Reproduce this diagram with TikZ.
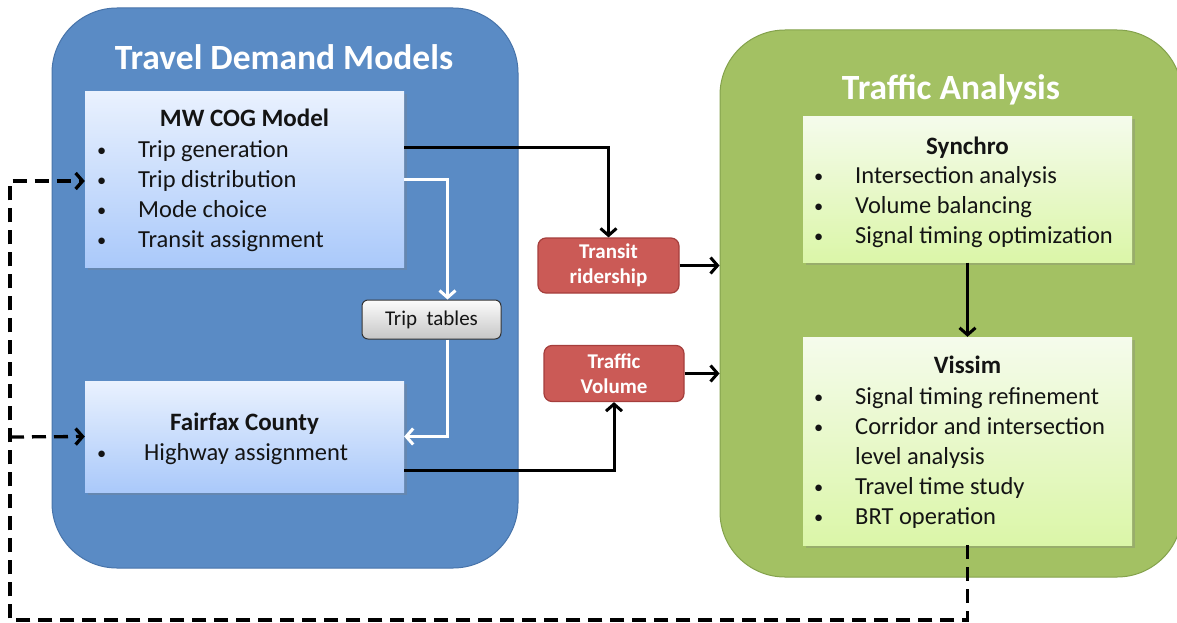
\documentclass[tikz,border=0pt]{standalone}
\usepackage{fontspec}
\setmainfont{Carlito}
\usetikzlibrary{arrows.meta,shadows,calc}
\definecolor{bluebg}{RGB}{90,139,197}
\definecolor{blueedge}{RGB}{72,116,170}
\definecolor{greenbg}{RGB}{163,193,99}
\definecolor{greenedge}{RGB}{132,162,76}
\definecolor{redbg}{RGB}{203,90,86}
\definecolor{rededge}{RGB}{165,62,60}
\definecolor{cogtop}{RGB}{233,241,254}
\definecolor{cogbot}{RGB}{170,201,250}
\definecolor{syntop}{RGB}{245,251,236}
\definecolor{synbot}{RGB}{219,246,168}
\definecolor{graytop}{RGB}{252,252,252}
\definecolor{graybot}{RGB}{198,198,198}
\definecolor{txtcol}{RGB}{20,20,20}
\newcommand\mkitem[5]{\node[itemtxt] (#1) at (#2,#3) {\makebox[#4pt][l]{\raisebox{1pt}{\scalebox{0.75}{\textbullet}}}#5};}
\begin{document}
\begin{tikzpicture}[x=1pt,y=-1pt,
  bigbox/.style={line width=1pt, inner sep=0pt, rounded corners=65pt},
  bluebox/.style={bigbox, fill=bluebg, draw=blueedge},
  greenbox/.style={bigbox, fill=greenbg, draw=greenedge},
  lightbox/.style={inner sep=0pt, drop shadow={shadow xshift=2.5pt,shadow yshift=-2.5pt,opacity=0.3}},
  cogbox/.style={lightbox, top color=cogtop, bottom color=cogbot},
  synbox/.style={lightbox, top color=syntop, bottom color=synbot},
  redbox/.style={draw=rededge, line width=1.2pt, fill=redbg, rounded corners=8pt, text=white,
     font=\fontsize{21}{25}\selectfont\bfseries, align=center, inner sep=0pt},
  graybox/.style={draw=black!80, line width=1pt, top color=graytop, bottom color=graybot,
     rounded corners=6pt, font=\fontsize{21}{24}\selectfont, text=txtcol, inner sep=0pt},
  titletxt/.style={text=white, font=\fontsize{35.5}{40}\selectfont\bfseries, anchor=base, inner sep=0pt},
  headtxt/.style={font=\fontsize{25}{28}\selectfont\bfseries, text=txtcol, anchor=base, inner sep=0pt},
  itemtxt/.style={font=\fontsize{24.5}{28}\selectfont, text=txtcol, anchor=base west, inner sep=0pt},
  tip/.style={-{Straight Barb[length=7pt,width=16pt]}},
  conn/.style={line width=3pt, tip},
  whiteconn/.style={conn, draw=white},
  dashconn/.style={line width=3.3pt, dash pattern=on 14pt off 8pt, tip}
]
\useasboundingbox (0,0) rectangle (1177,623);
\clip (0,0) rectangle (1177,623);

% big containers
\node[bluebox, minimum width=466pt, minimum height=560pt] (tdm) at (285,288) {};
\node[greenbox, minimum width=462pt, minimum height=547pt] (ta) at (951,303.5) {};
\node[titletxt] (tdmtitle) at (284,70) {Travel Demand Models};
\node[titletxt] (tatitle) at (951,100) {Traffic Analysis};

% MW COG box
\node[cogbox, minimum width=319pt, minimum height=175pt] (mw) at (244.5,179.5) {};
\node[headtxt] (mwh) at (244.5,126.5) {MW COG Model};
\mkitem{mw1}{97}{157.5}{41}{Trip generation}
\mkitem{mw2}{97}{187.5}{41}{Trip distribution}
\mkitem{mw3}{97}{217.5}{41}{Mode choice}
\mkitem{mw4}{97}{247.5}{41}{Transit assignment}

% Fairfax box
\node[cogbox, minimum width=319pt, minimum height=111pt] (ff) at (244.5,436.5) {};
\node[headtxt] (ffh) at (244.5,430.5) {Fairfax County};
\mkitem{ff1}{97}{460.5}{47}{Highway assignment}

% Trip tables
\node[graybox, minimum width=139pt, minimum height=39pt] (tt) at (431.5,319.5) {Trip\ \ tables};

% red boxes
\node[redbox, minimum width=141pt, minimum height=55pt] (tr) at (608.5,265.5) {Transit\\ridership};
\node[redbox, minimum width=140pt, minimum height=56pt] (tv) at (614,373.5) {Traffic\\Volume};

% Synchro box
\node[synbox, minimum width=329pt, minimum height=146pt] (sy) at (967.5,189.5) {};
\node[headtxt] (syh) at (967.5,154) {Synchro};
\mkitem{sy1}{814}{183.5}{41}{Intersection analysis}
\mkitem{sy2}{814}{213.5}{41}{Volume balancing}
\mkitem{sy3}{814}{243.5}{41}{Signal timing optimization}

% Vissim box
\node[synbox, minimum width=329pt, minimum height=208pt] (vi) at (967.5,441) {};
\node[headtxt] (vih) at (967.5,373.5) {Vissim};
\mkitem{vi1}{814}{404.5}{41}{Signal timing refinement}
\mkitem{vi2}{814}{434.5}{41}{Corridor and intersection}
\node[itemtxt] (vi2b) at (855,464.5) {level analysis};
\mkitem{vi3}{814}{494.5}{41}{Travel time study}
\mkitem{vi4}{814}{524.5}{41}{BRT operation}

% connectors
\draw[whiteconn] (mw.east) -| ([xshift=16pt]tt.north);
\draw[whiteconn] ([xshift=16pt]tt.south) |- (ff.east);
\draw[conn] ([yshift=32.5pt]mw.east) -| (tr.north);
\draw[conn] ([yshift=-33.5pt]ff.east) -| (tv.south);
\draw[conn] (tr.east) -- (tr.east -| ta.west);
\draw[conn] (tv.east) -- (tv.east -| ta.west);
\draw[conn] (sy.south) -- (vi.north);

% feedback dashed loop
\coordinate (lp) at (10,620);
\coordinate (lb) at (10,437);
\draw[dashconn] (vi.south) |- (lp) |- ([yshift=-1.5pt]mw.west);
\draw[dashconn] (lb) -- (ff.west);
\end{tikzpicture}
\end{document}
